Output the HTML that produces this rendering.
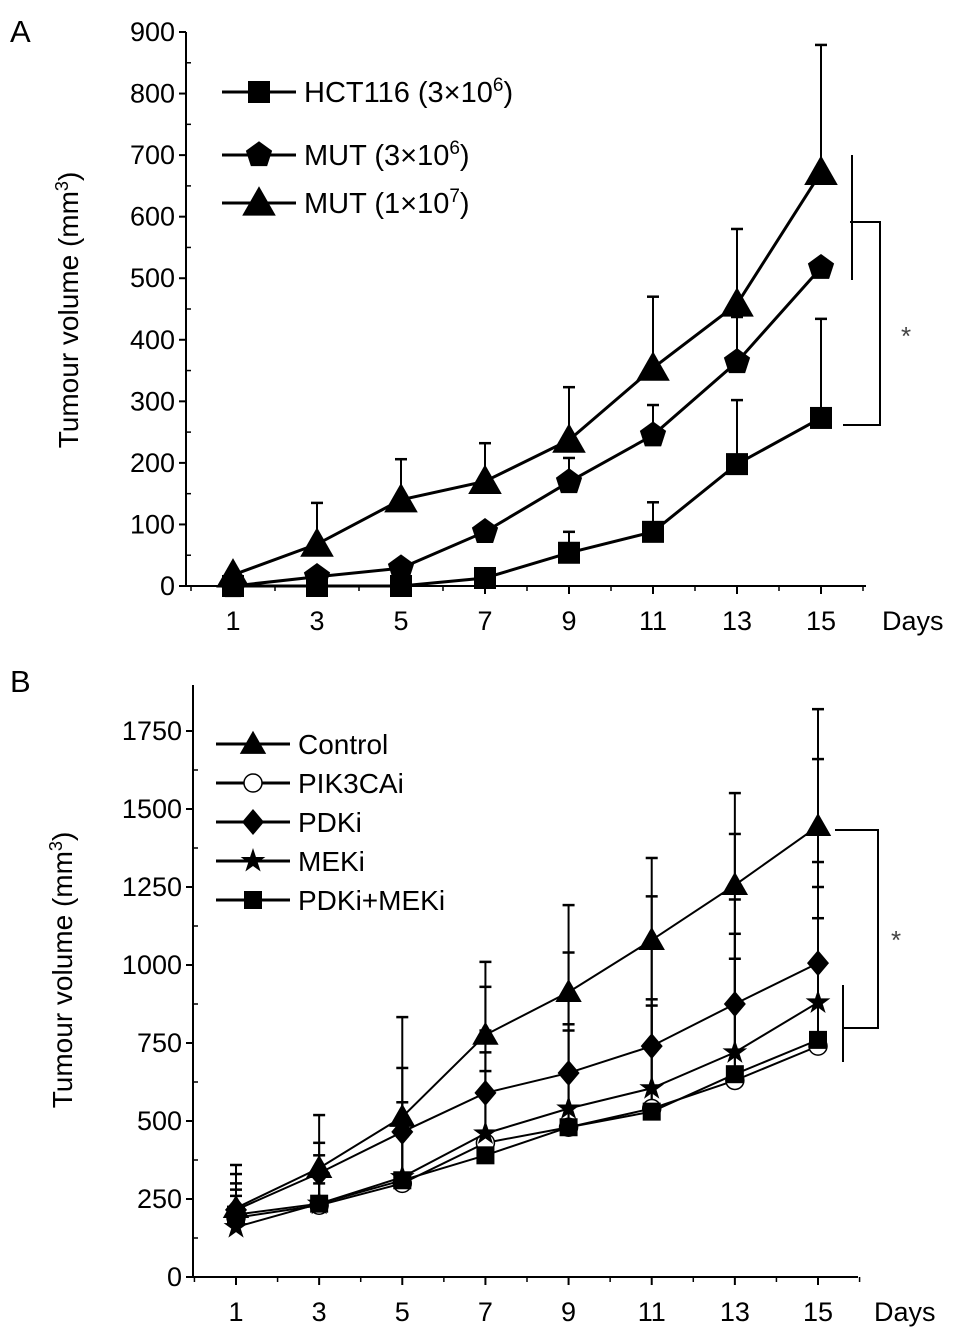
<!DOCTYPE html>
<html><head><meta charset="utf-8"><style>
html,body{margin:0;padding:0;background:#fff}
svg{display:block;font-family:"Liberation Sans",sans-serif}
</style></head><body>
<svg id="svg" width="969" height="1337" viewBox="0 0 969 1337">
<g id="A"></g>
<g id="B"></g>
</svg>
<script>
const days = [1,3,5,7,9,11,13,15];
// Panel A
const aHct = [0,0,0,13,54,88,198,273];
const aHctErr = [0,0,0,0,88,136,302,434];
const aMut3 = [0,15,29,88,169,245,364,517];
const aMut3Err = [0,0,0,0,208,294,437,517];
const aMut7 = [18,68,140,170,237,354,458,672];
const aMut7Err = [18,135,206,232,323,470,580,879];
const aTicks = [0,100,200,300,400,500,600,700,800,900];
// Panel B
const bControl = [221,349,513,776,913,1080,1256,1445];
const bControlErr = [359,519,833,1010,1192,1343,1551,1820];
const bPik = [190,230,300,430,480,540,630,740];
const bPikErr = [260,300,450,720,810,890,1020,1150];
const bPdk = [215,333,465,590,654,740,875,1006];
const bPdkErr = [330,430,670,930,1040,1220,1420,1660];
const bMek = [160,235,320,460,540,605,720,880];
const bMekErr = [300,390,560,790,900,1080,1210,1330];
const bCombo = [200,235,310,390,480,530,650,760];
const bComboErr = [280,320,480,660,790,870,1100,1250];
const bTicks = [0,250,500,750,1000,1250,1500,1750];

const NS='http://www.w3.org/2000/svg';
function mk(parent,tag,attrs,text){const e=document.createElementNS(NS,tag);for(const k in attrs)e.setAttribute(k,attrs[k]);if(text!==undefined)e.textContent=text;parent.appendChild(e);return e;}

function marker(g,type,x,y,s){
  let e;
  if(type==='square'){e=mk(g,'rect',{x:x-s,y:y-s,width:2*s,height:2*s,fill:'#000'});}
  else if(type==='triangle'){e=mk(g,'polygon',{points:`${x},${y-s*1.2} ${x-s*1.2},${y+s*0.9} ${x+s*1.2},${y+s*0.9}`,fill:'#000'});}
  else if(type==='pentagon'){let p=[];for(let i=0;i<5;i++){const a=-Math.PI/2+i*2*Math.PI/5;p.push((x+s*1.15*Math.cos(a))+','+(y+s*1.15*Math.sin(a)));}e=mk(g,'polygon',{points:p.join(' '),fill:'#000'});}
  else if(type==='circle'){e=mk(g,'circle',{cx:x,cy:y,r:s,fill:'#fff',stroke:'#000','stroke-width':1.5});}
  else if(type==='diamond'){e=mk(g,'polygon',{points:`${x},${y-s*1.3} ${x+s*1.1},${y} ${x},${y+s*1.3} ${x-s*1.1},${y}`,fill:'#000'});}
  else if(type==='star'){let p=[];for(let i=0;i<10;i++){const r=i%2?s*0.5:s*1.3;const a=-Math.PI/2+i*Math.PI/5;p.push((x+r*Math.cos(a))+','+(y+r*Math.sin(a)));}e=mk(g,'polygon',{points:p.join(' '),fill:'#000'});}
  return e;
}

function panel(gid,cfg){
  const g=document.getElementById(gid);
  const X=d=>cfg.x0+(d-1)/14*(cfg.x1-cfg.x0);
  const Y=v=>cfg.yb-(v/cfg.ymax)*(cfg.yb-cfg.ytopVal);
  let e=mk(g,'line',{x1:cfg.ax,y1:cfg.axTop,x2:cfg.ax,y2:cfg.yb,stroke:'#000','stroke-width':2});
  
  e=mk(g,'line',{x1:cfg.ax,y1:cfg.yb,x2:cfg.axRight,y2:cfg.yb,stroke:'#000','stroke-width':2});
  
  cfg.ticks.forEach((t,i)=>{
    const y=Y(t);
    mk(g,'line',{x1:cfg.ax-7,y1:y,x2:cfg.ax,y2:y,stroke:'#000','stroke-width':2});
    if(i<cfg.ticks.length-1)mk(g,'line',{x1:cfg.ax,y1:Y(t+cfg.ticks[1]/2),x2:cfg.ax+5,y2:Y(t+cfg.ticks[1]/2),stroke:'#000','stroke-width':1.5});
    const tx=mk(g,'text',{x:cfg.ax-11,y:y+9,'text-anchor':'end','font-size':27},String(t));
    
  });
  if(cfg.extraTop){mk(g,'line',{x1:cfg.ax,y1:Y(cfg.extraTop),x2:cfg.ax+5,y2:Y(cfg.extraTop),stroke:'#000','stroke-width':1.5});}
  days.forEach(d=>{
    const x=X(d);
    mk(g,'line',{x1:x,y1:cfg.yb,x2:x,y2:cfg.yb+8,stroke:'#000','stroke-width':2});
    mk(g,'line',{x1:x+(X(3)-X(1))/2,y1:cfg.yb,x2:x+(X(3)-X(1))/2,y2:cfg.yb+5,stroke:'#000','stroke-width':1.5});
    const tx=mk(g,'text',{x:x,y:cfg.yb+44,'text-anchor':'middle','font-size':27},String(d));
    
  });
  mk(g,'line',{x1:X(0),y1:cfg.yb,x2:X(0),y2:cfg.yb+5,stroke:'#000','stroke-width':1.5});
  let t=mk(g,'text',{x:cfg.daysX,y:cfg.yb+44,'font-size':27},'Days');
  
  t=mk(g,'text',{x:0,y:0,'font-size':28,'text-anchor':'middle',transform:`translate(${cfg.ytx},${cfg.yty}) rotate(-90)`});
  t.innerHTML='Tumour volume (mm<tspan dy="-10" font-size="18">3</tspan><tspan dy="10">)</tspan>';
  
  t=mk(g,'text',{x:cfg.lx,y:cfg.ly,'font-size':31},cfg.letter);
  
  cfg.series.forEach(s=>{
    const sg=mk(g,'g',{});
    
    days.forEach((d,i)=>{
      if(s.err[i]<=s.vals[i])return;
      const x=X(d);
      mk(sg,'line',{x1:x,y1:Y(s.vals[i]),x2:x,y2:Y(s.err[i]),stroke:'#000','stroke-width':2});
      mk(sg,'line',{x1:x-6,y1:Y(s.err[i]),x2:x+6,y2:Y(s.err[i]),stroke:'#000','stroke-width':2.5});
    });
  });
  cfg.series.forEach(s=>{
    const sg=mk(g,'g',{});
    
    const p=mk(sg,'polyline',{points:days.map((d,i)=>X(d)+','+Y(s.vals[i])).join(' '),fill:'none',stroke:'#000','stroke-width':s.lw||3});
    
    days.forEach((d,i)=>{
      const m=marker(sg,s.marker,X(d),Y(s.vals[i]),s.size);
      
    });
  });
  cfg.series.slice().sort((a,b)=>a.lorder-b.lorder).forEach(s=>{
    const lg=mk(g,'g',{});
    
    const y=cfg.legYs[s.lorder];
    mk(lg,'line',{x1:cfg.legX,y1:y,x2:cfg.legX+74,y2:y,stroke:'#000','stroke-width':3});
    marker(lg,s.marker,cfg.legX+37,y,s.size);
    const tx=mk(lg,'text',{x:cfg.legX+82,y:y+10,'font-size':cfg.legFont});
    tx.innerHTML=s.label;
  });
  return {X,Y,g};
}

const A=panel('A',{x0:233,x1:821,ax:186,axTop:32,axRight:866,yb:586,ymax:900,ytopVal:32,ticks:aTicks,daysX:882,ytx:78,yty:310,letter:'A',lx:10,ly:42,
  legX:222,legYs:[92,155,203],legFont:29,
  series:[
    {name:'hct116',label:'HCT116 (3×10<tspan dy="-11" font-size="19">6</tspan><tspan dy="11">)</tspan>',vals:aHct,err:aHctErr,marker:'square',size:11,lorder:0},
    {name:'mut-3e6',label:'MUT (3×10<tspan dy="-11" font-size="19">6</tspan><tspan dy="11">)</tspan>',vals:aMut3,err:aMut3Err,marker:'pentagon',size:12,lorder:1},
    {name:'mut-1e7',label:'MUT (1×10<tspan dy="-11" font-size="19">7</tspan><tspan dy="11">)</tspan>',vals:aMut7,err:aMut7Err,marker:'triangle',size:14,lorder:2}
  ]});
const B=panel('B',{x0:236,x1:818,ax:193,axTop:685,axRight:858,yb:1277,ymax:1750,ytopVal:731,ticks:bTicks,daysX:874,ytx:72,yty:970,letter:'B',lx:10,ly:692,
  legX:216,legYs:[744,783,822,861,900],legFont:28,
  series:[
    {name:'pik3cai',label:'PIK3CAi',vals:bPik,err:bPikErr,marker:'circle',size:9,lorder:1,lw:2},
    {name:'pdki-meki',label:'PDKi+MEKi',vals:bCombo,err:bComboErr,marker:'square',size:9,lorder:4,lw:2},
    {name:'meki',label:'MEKi',vals:bMek,err:bMekErr,marker:'star',size:10,lorder:3,lw:2},
    {name:'pdki',label:'PDKi',vals:bPdk,err:bPdkErr,marker:'diamond',size:10,lorder:2,lw:2},
    {name:'control',label:'Control',vals:bControl,err:bControlErr,marker:'triangle',size:11,lorder:0,lw:2}
  ]});

function sig(g,pts,vline,ax,ay){
  const b=mk(g,'polyline',{points:pts,fill:'none',stroke:'#000','stroke-width':2});
  
  const v=mk(g,'line',{x1:vline[0],y1:vline[1],x2:vline[0],y2:vline[2],stroke:'#000','stroke-width':2});
  
  const t=mk(g,'text',{x:ax,y:ay,'font-size':26,fill:'#444'},'*');
  
}
sig(A.g,'850,222 880,222 880,425 843,425',[852,155,280],901,345);
sig(B.g,'835,830 878,830 878,1028 843,1028',[843,985,1062],891,949);
</script>
</body></html>
